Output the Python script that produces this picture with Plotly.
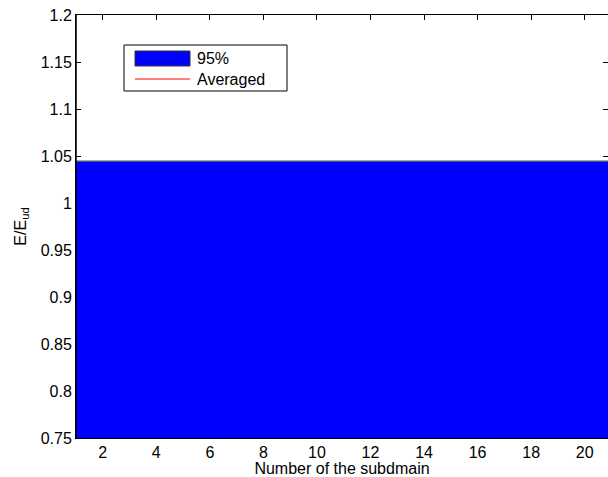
import plotly.graph_objects as go

# data
subdomains = list(range(1, 22))
upper_95 = [1.0445] * 21
lower_95 = [0.74] * 21
averaged = [0.896] * 21
x_ticks = [2, 4, 6, 8, 10, 12, 14, 16, 18, 20]
y_ticks = [0.75, 0.8, 0.85, 0.9, 0.95, 1.0, 1.05, 1.1, 1.15, 1.2]
y_tick_text = ["0.75", "0.8", "0.85", "0.9", "0.95", "1", "1.05", "1.1", "1.15", "1.2"]
legend_labels = ["95%", "Averaged"]

FONT = "Liberation Sans, Arial, Helvetica, sans-serif"
W, H = 608, 477
ML, MR, MT, MB = 76, 0, 15, 39
PW, PH = W - ML - MR, H - MT - MB


def px(x):
    return (x - ML) / PW


def py(y):
    return (H - MB - y) / PH


fig = go.Figure()
fig.add_trace(go.Scatter(x=subdomains, y=averaged, mode="lines",
                         line=dict(color="red", width=1), name=legend_labels[1],
                         showlegend=False))
fig.add_trace(go.Scatter(x=subdomains, y=lower_95, mode="lines",
                         line=dict(color="#444", width=1), showlegend=False,
                         hoverinfo="skip"))
fig.add_trace(go.Scatter(x=subdomains, y=upper_95, mode="lines", fill="tonexty",
                         fillcolor="#0000ff", line=dict(color="#555", width=1.2),
                         name=legend_labels[0], showlegend=False))

shapes = [
    # left axis line on top of the fill
    dict(type="line", xref="paper", yref="paper", x0=0, x1=0, y0=0, y1=1,
         line=dict(color="black", width=1.5), layer="above"),
    # legend box
    dict(type="rect", xref="paper", yref="paper", x0=px(124), x1=px(287),
         y0=py(91), y1=py(45), line=dict(color="black", width=1),
         fillcolor="white", layer="above"),
    # legend patch
    dict(type="rect", xref="paper", yref="paper", x0=px(135), x1=px(190),
         y0=py(66), y1=py(51), line=dict(color="#333", width=1),
         fillcolor="#0000ff", layer="above"),
    # legend line
    dict(type="line", xref="paper", yref="paper", x0=px(135), x1=px(190),
         y0=py(79), y1=py(79), line=dict(color="red", width=1.2), layer="above"),
]
annotations = [
    dict(text=legend_labels[0], xref="paper", yref="paper", x=px(195), y=py(58.5),
         xanchor="left", yanchor="middle", showarrow=False,
         font=dict(size=16, family=FONT, color="black")),
    dict(text=legend_labels[1], xref="paper", yref="paper", x=px(195), y=py(79),
         xanchor="left", yanchor="middle", showarrow=False,
         font=dict(size=16, family=FONT, color="black")),
]

fig.update_layout(
    width=W, height=H,
    margin=dict(l=ML, r=MR, t=MT, b=MB),
    paper_bgcolor="white", plot_bgcolor="white",
    font=dict(family=FONT, size=16, color="black"),
    showlegend=False,
    shapes=shapes, annotations=annotations,
    xaxis=dict(range=[1, 20.87], tickvals=x_ticks, ticks="inside", ticklen=5,
               tickcolor="black", showline=True, linecolor="black", linewidth=1,
               mirror="ticks", showgrid=False, zeroline=False, layer="below traces",
               title=dict(text="Number of the subdmain", standoff=2,
                          font=dict(size=16)),
               tickfont=dict(size=16), automargin=False),
    yaxis=dict(range=[0.75, 1.2], tickvals=y_ticks, ticktext=y_tick_text,
               ticks="inside", ticklen=5, tickcolor="black", showline=True,
               linecolor="black", linewidth=1, mirror="ticks", showgrid=False,
               zeroline=False, layer="below traces",
               title=dict(text="E/E<sub>ud</sub>", standoff=10, font=dict(size=16)),
               tickfont=dict(size=16), automargin=False),
)

fig.write_html("out.html", config={"displayModeBar": False},
               post_script="document.body.style.margin='0';document.body.style.padding='0';")
